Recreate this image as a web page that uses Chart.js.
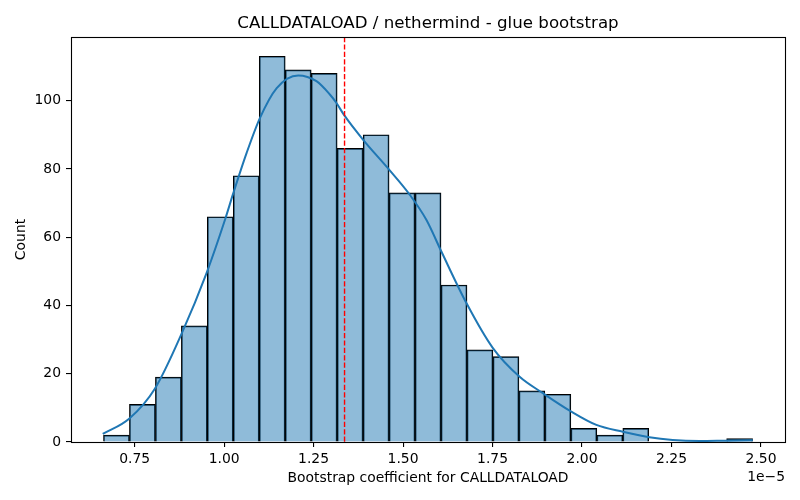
<!DOCTYPE html>
<html><head><meta charset="utf-8">
<script src="https://cdn.jsdelivr.net/npm/chart.js@4/dist/chart.umd.min.js"></script>
<style>html,body{margin:0;padding:0;background:#fff}</style>
</head><body>
<canvas id="c" width="800" height="500"></canvas>
<script>
// Histogram bins (values in units of 1e-5)
const binCenters = [0.6993, 0.7718, 0.8444, 0.9169, 0.9894, 1.0620, 1.1345, 1.2071, 1.2796, 1.3521,
  1.4247, 1.4972, 1.5698, 1.6423, 1.7148, 1.7874, 1.8599, 1.9325, 2.0050, 2.0775,
  2.1501, 2.2226, 2.2952, 2.3677, 2.4402];
const binCounts = [2, 11, 19, 34, 66, 78, 113, 109, 108, 86,
  90, 73, 73, 46, 27, 25, 15, 14, 4, 2,
  4, 0, 0, 0, 1];
// KDE curve
const kdeX = [0.661, 0.7355, 0.807, 0.882, 0.951, 1.0025, 1.0257, 1.063, 1.100, 1.147, 1.207, 1.258,
  1.2955, 1.314, 1.3345, 1.388, 1.461, 1.519, 1.565, 1.607, 1.677, 1.751, 1.8256, 1.8906,
  1.970, 2.040, 2.114, 2.188, 2.253, 2.328, 2.402, 2.477];
const kdeY = [2.35, 6.9, 15.7, 31.9, 49.5, 65.1, 72.9, 84.7, 94.9, 103.7, 107.4, 105.7,
  101.8, 99.3, 95.9, 88.6, 79.8, 72.4, 65.1, 55.8, 40.7, 27.5, 19.1, 14.3,
  8.9, 5.0, 3.0, 1.4, 0.6, 0.3, 0.4, 0.5];
const xTicks = [0.75, 1.00, 1.25, 1.50, 1.75, 2.00, 2.25, 2.50];
const yTicks = [0, 20, 40, 60, 80, 100];
const refLineX = 1.3365;
const xRange = [0.5723, 2.567];
const yRange = [0, 118.65];

const FONT = "'DejaVu Sans', sans-serif";

const decor = {
  id: 'decor',
  afterDatasetsDraw(chart) {
    const ctx = chart.ctx, a = chart.chartArea;
    const xs = chart.scales.x;
    ctx.save();
    // reference line
    const px = xs.getPixelForValue(refLineX);
    ctx.strokeStyle = '#ff0000';
    ctx.lineWidth = 1.4;
    ctx.setLineDash([5.2, 2.2]);
    ctx.beginPath();
    ctx.moveTo(px, a.top);
    ctx.lineTo(px, a.bottom);
    ctx.stroke();
    ctx.setLineDash([]);
    // spines
    ctx.strokeStyle = '#000';
    ctx.lineWidth = 1.1;
    ctx.strokeRect(Math.round(a.left) + 0.5, Math.round(a.top) + 0.5,
      Math.round(a.right - a.left), Math.round(a.bottom - a.top));
    // texts
    ctx.fillStyle = '#000';
    const cx = (a.left + a.right) / 2;
    ctx.textAlign = 'center';
    ctx.textBaseline = 'middle';
    ctx.font = '16.67px ' + FONT;
    ctx.fillText('CALLDATALOAD / nethermind - glue bootstrap', cx, 23.5);
    ctx.font = '13.9px ' + FONT;
    ctx.fillText('Bootstrap coefficient for CALLDATALOAD', cx, 478);
    ctx.textAlign = 'right';
    ctx.fillText('1e\u22125', a.right, 477);
    ctx.save();
    ctx.translate(21, (a.top + a.bottom) / 2);
    ctx.rotate(-Math.PI / 2);
    ctx.textAlign = 'center';
    ctx.fillText('Count', 0, 0);
    ctx.restore();
    ctx.restore();
  }
};

new Chart(document.getElementById('c'), {
  type: 'bar',
  data: {
    datasets: [
      {
        type: 'line',
        data: kdeX.map((x, i) => ({x: x, y: kdeY[i]})),
        borderColor: '#1f77b4',
        borderWidth: 2,
        pointRadius: 0,
        cubicInterpolationMode: 'monotone',
        fill: false,
        order: 0
      },
      {
        type: 'bar',
        data: binCenters.map((x, i) => ({x: x, y: binCounts[i]})),
        backgroundColor: 'rgba(31,119,180,0.5)',
        borderColor: '#000',
        borderWidth: 1,
        barPercentage: 1,
        categoryPercentage: 1,
        order: 1
      }
    ]
  },
  options: {
    responsive: false,
    animation: false,
    devicePixelRatio: 1,
    layout: {padding: {top: 37, right: 15, left: 0, bottom: 0}},
    plugins: {legend: {display: false}, tooltip: {enabled: false}, title: {display: false}},
    scales: {
      x: {
        type: 'linear',
        min: xRange[0], max: xRange[1],
        offset: false,
        afterBuildTicks: s => { s.ticks = xTicks.map(v => ({value: v})); },
        afterFit: s => { s.height = 58; },
        grid: {display: true, drawOnChartArea: false, drawTicks: true, tickLength: 5, color: '#000', lineWidth: 1.1, offset: false},
        border: {display: false},
        ticks: {padding: 4, color: '#000', font: {family: FONT, size: 13.9}, maxRotation: 0, autoSkip: false,
          callback: v => Number(v).toFixed(2)}
      },
      y: {
        type: 'linear',
        min: yRange[0], max: yRange[1],
        afterBuildTicks: s => { s.ticks = yTicks.map(v => ({value: v})); },
        afterFit: s => { s.width = 71; },
        grid: {display: true, drawOnChartArea: false, drawTicks: true, tickLength: 5, color: '#000', lineWidth: 1.1},
        border: {display: false},
        ticks: {padding: 5, color: '#000', font: {family: FONT, size: 13.9}, autoSkip: false,
          callback: v => String(v)}
      }
    }
  },
  plugins: [decor]
});
</script>
</body></html>
